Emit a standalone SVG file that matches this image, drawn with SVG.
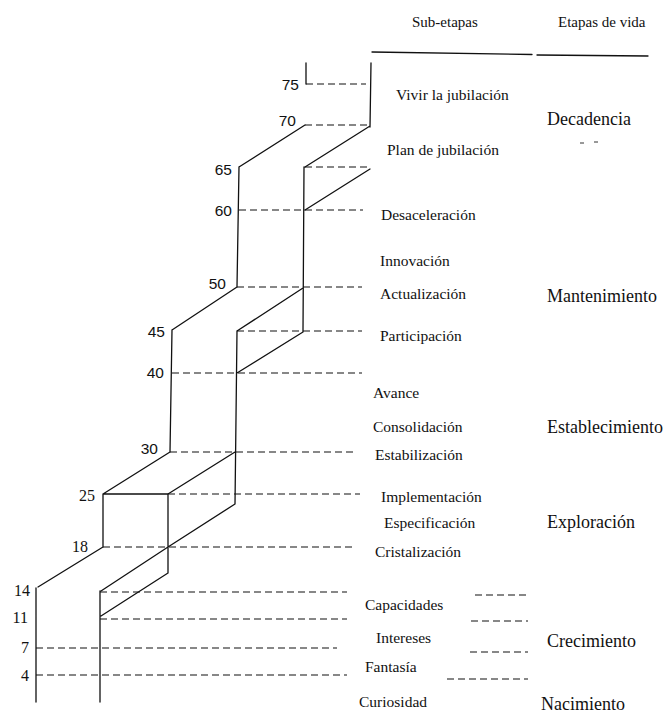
<svg xmlns="http://www.w3.org/2000/svg" width="664" height="713" viewBox="0 0 664 713">
<style>
.s{stroke:#111;stroke-width:1.3;fill:none;stroke-linecap:round}
.d{stroke:#111;stroke-width:1.2;fill:none;stroke-dasharray:7 4}
.m{stroke:#333;stroke-width:1;fill:none}
.n{font-family:"Liberation Sans",Arial,sans-serif;font-size:15.5px;fill:#111;text-anchor:end}
.ns{font-family:"Liberation Serif","Times New Roman",serif;font-size:16px;fill:#111;text-anchor:end}
.sub{font-family:"Liberation Serif","Times New Roman",serif;font-size:15.5px;fill:#111}
.stage{font-family:"Liberation Serif","Times New Roman",serif;font-size:18px;fill:#111}
.hd{font-family:"Liberation Serif","Times New Roman",serif;font-size:15px;fill:#111}
</style>
<rect width="664" height="713" fill="#fff"/>
<g id="header">
<text class="hd" x="412" y="27">Sub-etapas</text>
<text class="hd" x="558" y="27">Etapas de vida</text>
<path class="s" d="M372 52 L532 54.5 M537 55 L648 56"/>
</g>
<g id="connectors">
<g id="solid">
<path class="s" d="M306 63 L306 84 M371 63 L370 127 M305 125 L239 167 M370 126 L305 167 M370 169 L305 210 M239 167 L237 287 M304 167 L303 332 M237 287 L172 330 M303 288 L237 331 M303 332 L237 373 M172 330 L170 452 M237 331 L235 504 M170 452 L103 494 M235 452 L168 494 M103 494 L168 494 M103 494 L103 547 M168 494 L168 573 M235 504 L168 547 M103 547 L38 587 M168 547 L101 591 M168 573 L101 616 M36 588 L36 702 M100 591 L100 702"/>
</g>
<g id="dashed">
<path class="d" d="M306 84 L366 84 M305 125 L369 125 M305 167 L370 167 M239 210 L363 210 M237 287 L362 287 M237 331 L362 331 M172 373 L362 373 M170 452 L353 452 M168 494 L360 494 M103 547 L353 547 M100 592 L347 592 M100 619 L347 619 M36 648 L337 648 M36 675 L347 675"/>
<path class="d" d="M475 595 L528 595 M471 621 L528 621 M470 652 L528 652 M447 679 L528 679"/>
<path class="m" d="M580 143 L584 143 M594 142 L598 142"/>
</g>
</g>
<g id="ages">
<text class="n" x="299" y="90">75</text>
<text class="n" x="296" y="126">70</text>
<text class="n" x="232" y="175">65</text>
<text class="n" x="232" y="216">60</text>
<text class="n" x="226" y="289">50</text>
<text class="n" x="165" y="337">45</text>
<text class="n" x="164" y="378">40</text>
<text class="n" x="158" y="454">30</text>
<text class="ns" x="95" y="501">25</text>
<text class="ns" x="88" y="552">18</text>
<text class="ns" x="30" y="596">14</text>
<text class="ns" x="28" y="623">11</text>
<text class="ns" x="29" y="653">7</text>
<text class="ns" x="29" y="681">4</text>
</g>
<g id="subetapas">
<text class="sub" x="396" y="100">Vivir la jubilación</text>
<text class="sub" x="387" y="155">Plan de jubilación</text>
<text class="sub" x="381" y="220">Desaceleración</text>
<text class="sub" x="380" y="266">Innovación</text>
<text class="sub" x="380" y="299">Actualización</text>
<text class="sub" x="380" y="341">Participación</text>
<text class="sub" x="373" y="398">Avance</text>
<text class="sub" x="373" y="432">Consolidación</text>
<text class="sub" x="375" y="460">Estabilización</text>
<text class="sub" x="381" y="502">Implementación</text>
<text class="sub" x="384" y="528">Especificación</text>
<text class="sub" x="375" y="557">Cristalización</text>
<text class="sub" x="365" y="610">Capacidades</text>
<text class="sub" x="376" y="643">Intereses</text>
<text class="sub" x="365" y="672">Fantasía</text>
<text class="sub" x="359" y="707">Curiosidad</text>
</g>
<g id="etapas">
<text class="stage" x="547" y="125">Decadencia</text>
<text class="stage" x="547" y="302">Mantenimiento</text>
<text class="stage" x="547" y="433">Establecimiento</text>
<text class="stage" x="547" y="528">Exploración</text>
<text class="stage" x="547" y="647">Crecimiento</text>
<text class="stage" x="541" y="710">Nacimiento</text>
</g>
</svg>
